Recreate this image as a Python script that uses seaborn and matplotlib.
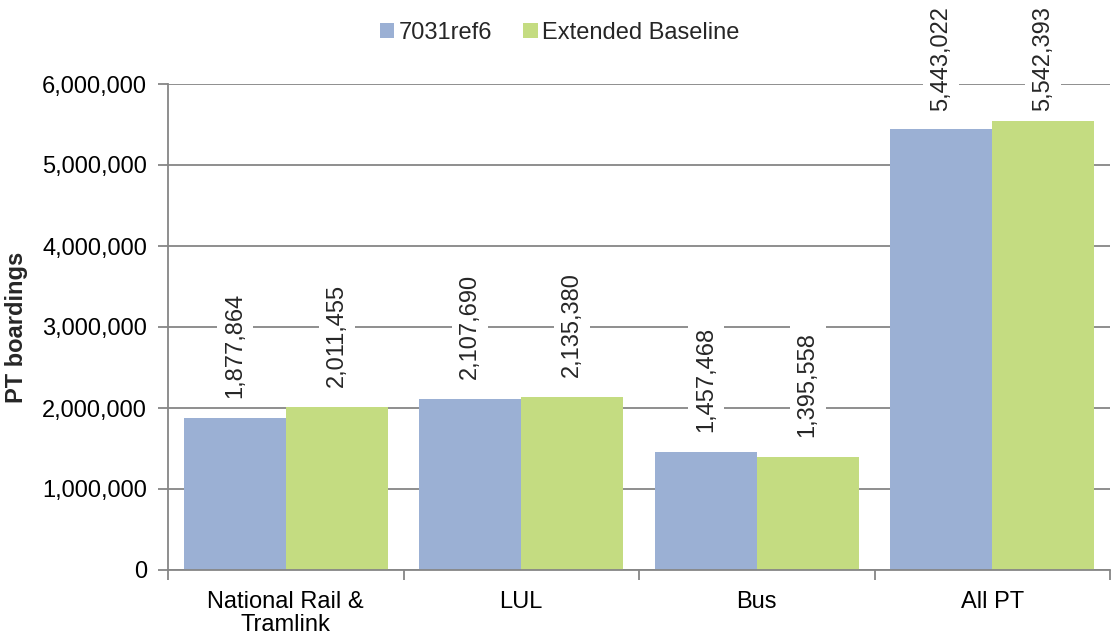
import matplotlib
matplotlib.use("Agg")
import matplotlib.pyplot as plt
import seaborn as sns
import pandas as pd
from matplotlib.ticker import FuncFormatter, MultipleLocator

categories = ["National Rail &\nTramlink", "LUL", "Bus", "All PT"]
series_names = ["7031ref6", "Extended Baseline"]
ref6_values = [1877864, 2107690, 1457468, 5443022]
baseline_values = [2011455, 2135380, 1395558, 5542393]
colors = ["#9bb0d4", "#c4dc81"]

df = pd.DataFrame({
    "category": categories * 2,
    "series": [series_names[0]] * 4 + [series_names[1]] * 4,
    "value": ref6_values + baseline_values,
})

sns.set_theme(style="white")
plt.rcParams["font.family"] = ["Liberation Sans", "DejaVu Sans"]

FS = 17
W, H = 1112, 637

fig = plt.figure(figsize=(W / 100, H / 100), dpi=100)
ax = fig.add_axes([168 / W, 1 - 570 / H, (1110 - 168) / W, (570 - 84) / H])

sns.barplot(data=df, x="category", y="value", hue="series", palette=colors,
            width=0.866, saturation=1, linewidth=0, ax=ax, legend=True, zorder=2)

ax.set_ylim(0, 6000000)
ax.set_xlim(-0.5, 3.5)
ax.yaxis.set_major_locator(MultipleLocator(1000000))
ax.yaxis.set_major_formatter(FuncFormatter(lambda v, p: f"{int(v):,}"))
ax.grid(axis="y", color="#868686", linewidth=1.3, zorder=0)
ax.set_axisbelow(True)

for s in ["top", "right"]:
    ax.spines[s].set_visible(False)
for s in ["left", "bottom"]:
    ax.spines[s].set_color("#868686")
    ax.spines[s].set_linewidth(1.3)

ax.tick_params(axis="y", which="major", left=True, length=7, width=1.3, color="#868686",
               labelsize=FS, labelcolor="black", pad=8)
ax.set_xticks(range(len(categories)))
ax.set_xticklabels(categories, linespacing=1.05)
ax.tick_params(axis="x", which="major", bottom=False, labelsize=FS, labelcolor="black", pad=9)
ax.set_xticks([-0.5, 0.5, 1.5, 2.5, 3.5], minor=True)
ax.tick_params(axis="x", which="minor", bottom=True, length=7, width=1.3, color="#868686")

ax.set_xlabel("")
ax.set_ylabel("PT boardings", fontsize=FS, fontweight="bold")
ax.yaxis.set_label_coords((28 - 168) / 942, 0.5)

# value labels sit above each bar; tall ones are nudged down to stay inside the figure
base_offset = 14.4
labels_drawn = []
for container in ax.containers:
    for bar in container:
        h = bar.get_height()
        ann = ax.annotate(f"{int(h):,}", (bar.get_x() + bar.get_width() / 2, h),
                          xytext=(0, base_offset), textcoords="offset points",
                          rotation=90, ha="center", va="bottom", fontsize=FS,
                          bbox=dict(boxstyle="square,pad=0.3", fc="white", ec="none"),
                          annotation_clip=False, zorder=3)
        labels_drawn.append(ann)

handles, labels = ax.get_legend_handles_labels()
ax.legend(handles, labels, loc="center", bbox_to_anchor=((560 - 168) / 942, 1 + 51 / 486),
          ncol=2, frameon=False, fontsize=FS, handlelength=0.6, handleheight=0.6,
          handletextpad=0.2, columnspacing=1.3, borderpad=0)

fig.canvas.draw()
renderer = fig.canvas.get_renderer()
top_limit = H - 6
for ann in labels_drawn:
    ext = ann.get_window_extent(renderer)
    if ext.y1 > top_limit:
        shift_pt = (ext.y1 - top_limit) * 72 / 100
        ann.xyann = (0, base_offset - shift_pt)

fig.savefig("out.png", dpi=100)
